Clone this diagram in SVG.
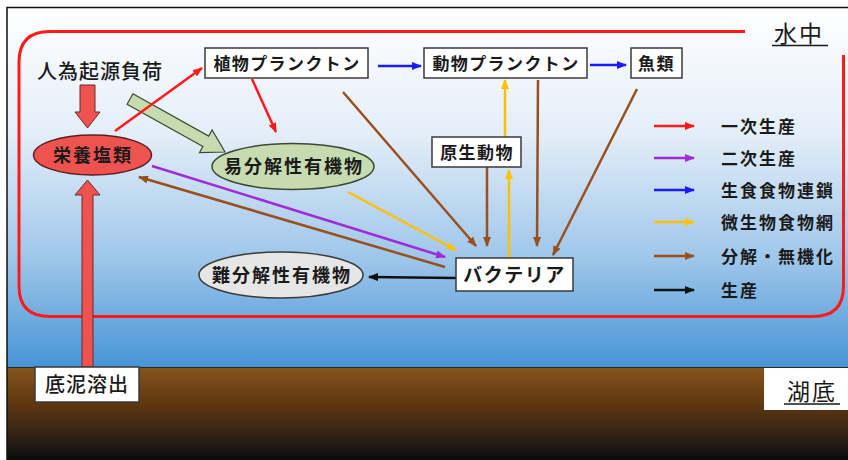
<svg xmlns="http://www.w3.org/2000/svg" width="848" height="460" viewBox="0 0 848 460">
<defs>
<linearGradient id="water" x1="0" y1="7" x2="0" y2="367" gradientUnits="userSpaceOnUse">
<stop offset="0" stop-color="#ffffff"/>
<stop offset="0.35" stop-color="#e4eef8"/>
<stop offset="0.7" stop-color="#9ec6ea"/>
<stop offset="1" stop-color="#4794d6"/>
</linearGradient>
<linearGradient id="ground" x1="0" y1="368" x2="0" y2="460" gradientUnits="userSpaceOnUse">
<stop offset="0" stop-color="#87541c"/>
<stop offset="0.4" stop-color="#5e3610"/>
<stop offset="0.75" stop-color="#2e2218"/>
<stop offset="1" stop-color="#0a0a0a"/>
</linearGradient>
<marker id="mRed" viewBox="0 0 10 8" refX="9" refY="4" markerWidth="4" markerHeight="3.2" orient="auto"><path d="M0,0 L10,4 L0,8 z" fill="#ff1a1a"/></marker>
<marker id="mPur" viewBox="0 0 10 8" refX="9" refY="4" markerWidth="4" markerHeight="3.2" orient="auto"><path d="M0,0 L10,4 L0,8 z" fill="#a22ad8"/></marker>
<marker id="mBlu" viewBox="0 0 10 8" refX="9" refY="4" markerWidth="4" markerHeight="3.2" orient="auto"><path d="M0,0 L10,4 L0,8 z" fill="#1a1aff"/></marker>
<marker id="mYel" viewBox="0 0 10 8" refX="9" refY="4" markerWidth="4" markerHeight="3.2" orient="auto"><path d="M0,0 L10,4 L0,8 z" fill="#ffc000"/></marker>
<marker id="mBrn" viewBox="0 0 10 8" refX="9" refY="4" markerWidth="4" markerHeight="3.2" orient="auto"><path d="M0,0 L10,4 L0,8 z" fill="#9a4f1e"/></marker>
<marker id="mBlk" viewBox="0 0 10 8" refX="9" refY="4" markerWidth="4" markerHeight="3.2" orient="auto"><path d="M0,0 L10,4 L0,8 z" fill="#111111"/></marker>
</defs>
<style>
.t{font-family:"Noto Sans CJK JP","Noto Sans CJK SC",sans-serif;font-weight:bold;fill:#1a1a1a;}
.n{font-family:"Noto Sans CJK JP","Noto Sans CJK SC",sans-serif;font-weight:normal;fill:#1a1a1a;}
.box{fill:#ffffff;stroke:#3a3a3a;stroke-width:1.5;}
.ln{fill:none;stroke-width:2.5;}
.red{stroke:#ff1a1a;marker-end:url(#mRed);}
.pur{stroke:#a22ad8;marker-end:url(#mPur);}
.blu{stroke:#1a1aff;marker-end:url(#mBlu);}
.yel{stroke:#ffc000;marker-end:url(#mYel);}
.brn{stroke:#9a4f1e;marker-end:url(#mBrn);}
.blk{stroke:#111111;marker-end:url(#mBlk);}
</style>
<rect x="0" y="0" width="848" height="460" fill="#ffffff"/>
<rect x="7" y="7" width="841" height="361" fill="url(#water)"/>
<rect x="7" y="368" width="841" height="92" fill="url(#ground)"/>
<line x1="7" y1="367.5" x2="848" y2="367.5" stroke="#2a2a2a" stroke-width="1.2"/>
<path d="M7,460 V7.5 H848" fill="none" stroke="#111" stroke-width="1.5"/>

<!-- red boundary -->
<path d="M745,31.5 H50 Q19,31.5 19,62 V286 Q19,316.5 50,316.5 H813 Q843.5,316.5 843.5,286 V55" fill="none" stroke="#ff1a1a" stroke-width="3"/>

<g id="label-water">
<text class="n" x="799" y="42" font-size="23" text-anchor="middle" letter-spacing="2">水中</text>
<line x1="772" y1="45.5" x2="828" y2="45.5" stroke="#1a1a1a" stroke-width="1.5"/>
</g>
<g id="label-bottom">
<rect x="764" y="368" width="84" height="42" fill="#ffffff"/>
<text class="n" x="812" y="400" font-size="23" text-anchor="middle" letter-spacing="2">湖底</text>
<line x1="784" y1="404" x2="840" y2="404" stroke="#1a1a1a" stroke-width="1.5"/>
</g>

<!-- thick arrows -->
<g id="thick-arrows">
<polygon points="80,85 95,85 95,112 100,112 87.5,128 75,112 80,112" fill="#ef5350" stroke="#6a2a2a" stroke-width="1"/>
<polygon points="82,367 82,195 75,195 87.5,180 100,195 93,195 93,367" fill="#ef5350" stroke="#6a2a2a" stroke-width="1"/>
<polygon points="132.9,93.8 208.7,136.1 212.1,130 225,152 199.5,152.6 202.9,146.5 127.1,104.2" fill="#c6dcb0" stroke="#3a4a30" stroke-width="1.2"/>
</g>

<g id="connectors">
<line class="ln red" x1="115" y1="131" x2="202" y2="68"/>
<line class="ln red" x1="252" y1="79" x2="276" y2="132"/>
<line class="ln blu" x1="378" y1="66" x2="421" y2="66"/>
<line class="ln blu" x1="590" y1="65" x2="626" y2="65"/>
<line class="ln brn" x1="343" y1="92" x2="476" y2="246"/>
<line class="ln brn" x1="538" y1="80" x2="537" y2="246"/>
<line class="ln brn" x1="637" y1="89" x2="553" y2="255"/>
<line class="ln brn" x1="487" y1="167" x2="487" y2="246"/>
<line class="ln yel" x1="509" y1="258" x2="509" y2="170"/>
<line class="ln yel" x1="505" y1="137" x2="505" y2="80"/>
<line class="ln yel" x1="348" y1="192" x2="456" y2="250"/>
<line class="ln pur" x1="152" y1="166" x2="445" y2="257"/>
<line class="ln brn" x1="445" y1="267" x2="139" y2="177"/>
<line class="ln blk" x1="456" y1="278" x2="369" y2="277"/>
</g>

<g id="n-jinni">
<text class="t" x="100" y="79" font-size="20" text-anchor="middle" letter-spacing="1" font-weight="normal" style="font-weight:500">人為起源負荷</text>
</g>
<g id="n-eiyo">
<ellipse cx="92.5" cy="155" rx="59" ry="20" fill="#ef5350" stroke="#5a2020" stroke-width="1.5"/>
<text class="t" x="93" y="161.5" font-size="18" text-anchor="middle" letter-spacing="2">栄養塩類</text>
</g>
<g id="n-ibunkai">
<ellipse cx="293" cy="166.5" rx="81" ry="23" fill="#c6dcb0" stroke="#3a4a30" stroke-width="1.5"/>
<text class="t" x="294" y="173" font-size="18" text-anchor="middle" letter-spacing="2">易分解性有機物</text>
</g>
<g id="n-nanbunkai">
<ellipse cx="281" cy="275" rx="82" ry="23" fill="#e6e6e6" stroke="#3a3a3a" stroke-width="1.5"/>
<text class="t" x="282" y="281.5" font-size="18" text-anchor="middle" letter-spacing="2">難分解性有機物</text>
</g>
<g id="n-shokubutsu">
<rect class="box" x="205" y="48" width="163" height="30"/>
<text class="t" x="287" y="69.5" font-size="17" text-anchor="middle" letter-spacing="1.4">植物プランクトン</text>
</g>
<g id="n-doubutsu">
<rect class="box" x="424" y="48" width="163" height="30"/>
<text class="t" x="506" y="69.5" font-size="17" text-anchor="middle" letter-spacing="1.4">動物プランクトン</text>
</g>
<g id="n-gyorui">
<rect class="box" x="631" y="48" width="51" height="30"/>
<text class="t" x="656.5" y="69.5" font-size="17" text-anchor="middle" letter-spacing="1.4">魚類</text>
</g>
<g id="n-gensei">
<rect class="box" x="432" y="137" width="89" height="30"/>
<text class="t" x="477" y="158.5" font-size="17" text-anchor="middle" letter-spacing="1.4">原生動物</text>
</g>
<g id="n-bacteria">
<rect class="box" x="456" y="258" width="117" height="33"/>
<text class="t" x="514.5" y="281.5" font-size="19" text-anchor="middle" letter-spacing="1.5">バクテリア</text>
</g>
<g id="n-teidei">
<rect class="box" x="35" y="367" width="104" height="35" stroke-width="1"/>
<text class="t" x="87" y="392" font-size="20" text-anchor="middle" letter-spacing="1" style="font-weight:500">底泥溶出</text>
</g>

<g id="legend">
<line class="ln red" x1="654" y1="126" x2="694" y2="126"/>
<line class="ln pur" x1="654" y1="158" x2="694" y2="158"/>
<line class="ln blu" x1="654" y1="190" x2="694" y2="190"/>
<line class="ln yel" x1="654" y1="222" x2="694" y2="222"/>
<line class="ln brn" x1="654" y1="256" x2="694" y2="256"/>
<line class="ln blk" x1="654" y1="290" x2="694" y2="290"/>
<text class="t" x="721" y="133" font-size="17" letter-spacing="2">一次生産</text>
<text class="t" x="721" y="165" font-size="17" letter-spacing="2">二次生産</text>
<text class="t" x="721" y="197" font-size="17" letter-spacing="2">生食食物連鎖</text>
<text class="t" x="721" y="229" font-size="17" letter-spacing="2">微生物食物網</text>
<text class="t" x="721" y="263" font-size="17" letter-spacing="2">分解・無機化</text>
<text class="t" x="721" y="297" font-size="17" letter-spacing="2">生産</text>
</g>
</svg>
